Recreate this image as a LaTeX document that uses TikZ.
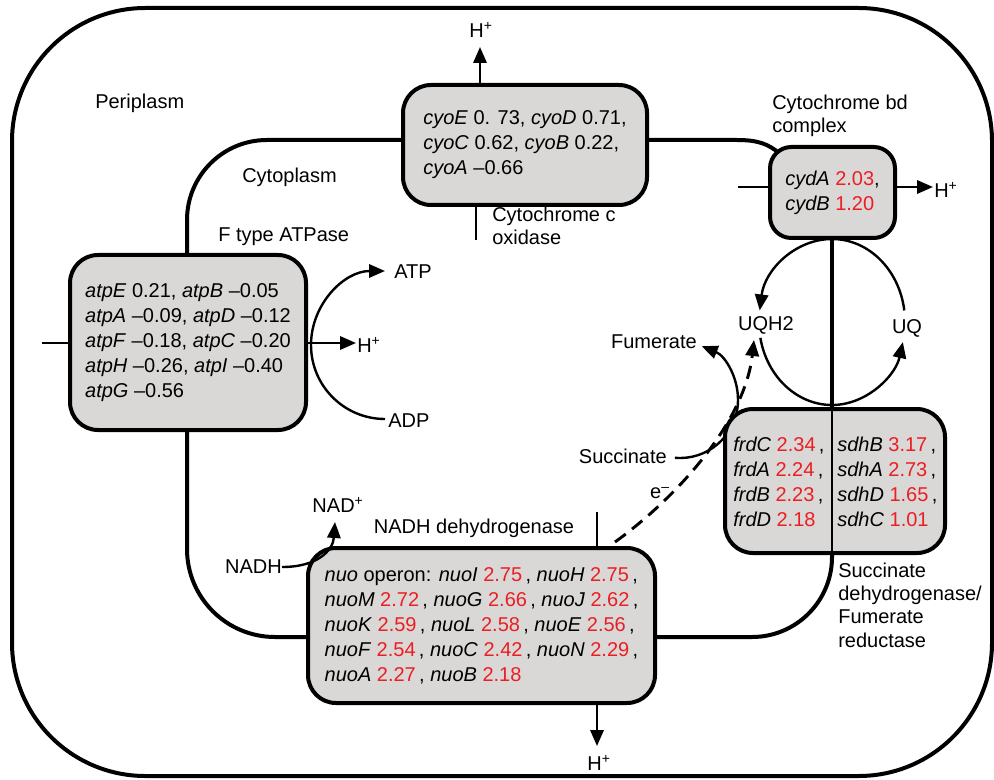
\documentclass[tikz,border=0pt]{standalone}
\usepackage{fontspec}
\setmainfont{Liberation Sans}
\usetikzlibrary{arrows.meta,calc}
\definecolor{boxgray}{RGB}{218,216,214}
\definecolor{valred}{RGB}{235,30,35}
\newcommand{\rv}[1]{\textcolor{valred}{#1}}
\newcommand{\Hp}{H\textsuperscript{+}}
\begin{document}
\begin{tikzpicture}[x=0.75pt,y=-0.75pt,
  every node/.style={font=\fontsize{15}{18.75}\selectfont, inner sep=0pt},
  membrane/.style={line width=3pt},
  protbox/.style={draw, line width=3pt, fill=boxgray, rounded corners=21pt, align=left, inner sep=0pt},
  tick/.style={line width=2pt},
  arr/.style={line width=1.8pt, -{Triangle[length=12pt,width=10pt]}},
  plain/.style={line width=1.8pt},
  lbl/.style={align=left, font=\fontsize{15}{17.5}\selectfont},
]
\useasboundingbox (0,0) rectangle (994,780);
% outer cell boundary
\draw[membrane, rounded corners=100pt] (12,8) rectangle (992,776);

% centres
\coordinate (atpc) at (385,345);
\coordinate (fc) at (680,400);
\coordinate (uqc) at (832,322);

% inner membrane
\draw[membrane, rounded corners=60pt] (403,140) -| (187,255);
\draw[membrane, rounded corners=66pt] (187,430) |- (308,637);
\draw[membrane, rounded corners=60pt] (655,637) -| (832,553);
\draw[membrane] (647,140) -- (737,140) .. controls (758,140) and (768,144) .. (779,153);
\draw[membrane] (832,238) -- (832,409);

% ATP synthase arcs
\draw[arr] (atpc) ++(-180:74) coordinate (atpa) arc[start angle=-180, end angle=-90, radius=74] coordinate (atpend);
\draw[plain] (atpa) arc[start angle=-180, end angle=-270, radius=74] coordinate (adpend);

% succinate / fumerate arc
\draw[arr] (fc) ++(95:58) coordinate (succend) arc[start angle=95, end angle=-68, radius=58];

% UQ cycle
\draw[arr] (uqc) ++(-90:73 and 83) arc[start angle=-90, end angle=-172, x radius=73, y radius=83];
\draw[arr] (uqc) ++(-191:73 and 83) arc[start angle=-191, end angle=-346, x radius=73, y radius=83];
\draw[plain] (uqc) ++(-8:73 and 83) arc[start angle=-8, end angle=-90, x radius=73, y radius=83];

% boxes
\node[protbox, minimum width=183pt, minimum height=90pt] (cyo) at (525,145)
 {\textit{cyoE} 0. 73, \textit{cyoD} 0.71,\\ \textit{cyoC} 0.62, \textit{cyoB} 0.22,\\ \textit{cyoA} –0.66};
\node[protbox, rounded corners=16pt, minimum width=93.75pt, minimum height=68.25pt] (cyd) at (832.5,192.5)
 {\textit{cydA} \rv{2.03},\\ \textit{cydB} \rv{1.20}};
\node[protbox, minimum width=177pt, minimum height=131.25pt] (atp) at (188,342.5)
 {\textit{atpE} 0.21, \textit{atpB} –0.05\\
  \textit{atpA} –0.09, \textit{atpD} –0.12\\
  \textit{atpF} –0.18, \textit{atpC} –0.20\\
  \textit{atpH} –0.26, \textit{atpI} –0.40\\
  \textit{atpG} –0.56};
\node[protbox, minimum width=260.25pt, minimum height=116.25pt] (nuo) at (481.5,625.5)
 {\textit{nuo} operon: \textit{nuoI} \rv{2.75}\,, \textit{nuoH} \rv{2.75}\,,\\
  \textit{nuoM} \rv{2.72}\,, \textit{nuoG} \rv{2.66}\,, \textit{nuoJ} \rv{2.62}\,,\\
  \textit{nuoK} \rv{2.59}\,, \textit{nuoL} \rv{2.58}\,, \textit{nuoE} \rv{2.56}\,,\\
  \textit{nuoF} \rv{2.54}\,, \textit{nuoC} \rv{2.42}\,, \textit{nuoN} \rv{2.29}\,,\\
  \textit{nuoA} \rv{2.27}\,, \textit{nuoB} \rv{2.18}};
\node[protbox, minimum width=165pt, minimum height=108pt] (sdh) at (835,481) {};
\draw[line width=1.5pt] (832,409) -- (832,553);
\node[align=left, anchor=west] (frd) at (733,482)
 {\textit{frdC} \rv{2.34}\,,\\ \textit{frdA} \rv{2.24}\,,\\ \textit{frdB} \rv{2.23}\,,\\ \textit{frdD} \rv{2.18}};
\node[align=left, anchor=west] (sdhtxt) at (837,482)
 {\textit{sdhB} \rv{3.17}\,,\\ \textit{sdhA} \rv{2.73}\,,\\ \textit{sdhD} \rv{1.65}\,,\\ \textit{sdhC} \rv{1.01}};

% membrane ticks
\coordinate (cyoTick) at (476,240);
\draw[tick] (cyo.south -| cyoTick) -- (cyoTick);
\coordinate (cydTick) at (738,187);
\draw[tick] (cydTick) -- (cydTick -| cyd.west);
\coordinate (atpTick) at (42,343);
\draw[tick] (atpTick) -- (atpTick -| atp.west);
\coordinate (nuoTick) at (597,512);
\draw[tick] (nuoTick) -- (nuoTick |- nuo.north);

% proton arrows
\coordinate (hTopEnd) at (480,47);
\draw[arr] (cyo.north -| hTopEnd) -- (hTopEnd);
\node (hTop) at (481,30) {\Hp};
\coordinate (hCydEnd) at (933,187);
\draw[arr] (cyd.east |- hCydEnd) -- (hCydEnd);
\node[anchor=west] (hCyd) at (934,190) {\Hp};
\coordinate (hAtpEnd) at (356,343);
\draw[arr] (atp.east |- hAtpEnd) -- (hAtpEnd);
\node[anchor=west] (hAtp) at (357,345) {\Hp};
\coordinate (hNuoEnd) at (597,746);
\draw[arr] (nuo.south -| hNuoEnd) -- (hNuoEnd);
\node (hNuo) at (599,763) {\Hp};

% NADH
\node[anchor=east] (nadh) at (282,567) {NADH};
\node (nadp) at (338,505) {NAD\textsuperscript{+}};
\coordinate (nadTip) at (335,522);
\draw[arr] (nadh.east) .. controls (318,567) and (333,550) .. (nadTip);

% electron transfer
\coordinate (eStart) at (615,542);
\coordinate (eTip) at (754,340);
\draw[arr, line width=2.2pt, dash pattern=on 10pt off 6pt] (eStart) .. controls (680,495) and (745,420) .. (eTip);
\node (eminus) at (660,493) {e\textsuperscript{–}};

% labels
\node[anchor=west] (atplab) at (394,272) {ATP};
\node[anchor=west] (adplab) at (388,421) {ADP};
\node (uqh2) at (766,325) {UQH2};
\node (uq) at (907,328) {UQ};
\node[anchor=east] (fum) at (697,342) {Fumerate};
\node[anchor=east] (succ) at (667,456) {Succinate};
\node[anchor=west] (peri) at (95,103) {Periplasm};
\node[anchor=west] (cyto) at (242,177) {Cytoplasm};
\node[anchor=west] (ftype) at (218,237) {F type ATPase};
\node[lbl, anchor=west] (cyolab) at (492,226) {Cytochrome c\\oxidase};
\node[lbl, anchor=west] (cydlab) at (772,116) {Cytochrome bd\\complex};
\node[lbl, anchor=west] (sdhlab) at (838,605) {Succinate\\dehydrogenase/\\Fumerate\\reductase};
\node (nuolab) at (474,528) {NADH dehydrogenase};
\end{tikzpicture}
\end{document}
